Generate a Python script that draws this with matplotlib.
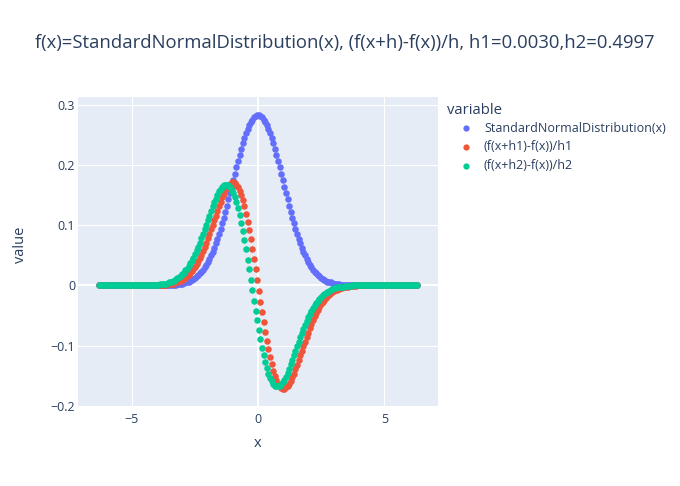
import matplotlib
matplotlib.use('Agg')
import matplotlib.pyplot as plt

plt.rcParams['font.family'] = ['Open Sans', 'DejaVu Sans']

TEXT = '#2a3f5f'
BG = '#E5ECF6'
COLORS = ['#636EFA', '#EF553B', '#00CC96']

title = 'f(x)=StandardNormalDistribution(x), (f(x+h)-f(x))/h, h1=0.0030,h2=0.4997'
names = ['StandardNormalDistribution(x)', '(f(x+h1)-f(x))/h1', '(f(x+h2)-f(x))/h2']

x = [
    -6.283, -6.220, -6.157, -6.094, -6.031, -5.967, -5.904, -5.841, -5.778, -5.715,
    -5.652, -5.589, -5.525, -5.462, -5.399, -5.336, -5.273, -5.210, -5.147, -5.083,
    -5.020, -4.957, -4.894, -4.831, -4.768, -4.705, -4.641, -4.578, -4.515, -4.452,
    -4.389, -4.326, -4.262, -4.199, -4.136, -4.073, -4.010, -3.947, -3.884, -3.820,
    -3.757, -3.694, -3.631, -3.568, -3.505, -3.442, -3.378, -3.315, -3.252, -3.189,
    -3.126, -3.063, -3.000, -2.936, -2.873, -2.810, -2.747, -2.684, -2.621, -2.557,
    -2.494, -2.431, -2.368, -2.305, -2.242, -2.179, -2.115, -2.052, -1.989, -1.926,
    -1.863, -1.800, -1.737, -1.673, -1.610, -1.547, -1.484, -1.421, -1.358, -1.295,
    -1.231, -1.168, -1.105, -1.042, -0.979, -0.916, -0.852, -0.789, -0.726, -0.663,
    -0.600, -0.537, -0.474, -0.410, -0.347, -0.284, -0.221, -0.158, -0.095, -0.032,
    0.032, 0.095, 0.158, 0.221, 0.284, 0.347, 0.410, 0.474, 0.537, 0.600,
    0.663, 0.726, 0.789, 0.852, 0.916, 0.979, 1.042, 1.105, 1.168, 1.231,
    1.295, 1.358, 1.421, 1.484, 1.547, 1.610, 1.673, 1.737, 1.800, 1.863,
    1.926, 1.989, 2.052, 2.115, 2.179, 2.242, 2.305, 2.368, 2.431, 2.494,
    2.557, 2.621, 2.684, 2.747, 2.810, 2.873, 2.936, 3.000, 3.063, 3.126,
    3.189, 3.252, 3.315, 3.378, 3.442, 3.505, 3.568, 3.631, 3.694, 3.757,
    3.820, 3.884, 3.947, 4.010, 4.073, 4.136, 4.199, 4.262, 4.326, 4.389,
    4.452, 4.515, 4.578, 4.641, 4.705, 4.768, 4.831, 4.894, 4.957, 5.020,
    5.083, 5.147, 5.210, 5.273, 5.336, 5.399, 5.462, 5.525, 5.589, 5.652,
    5.715, 5.778, 5.841, 5.904, 5.967, 6.031, 6.094, 6.157, 6.220, 6.283,
]

normal = [
    0, 0, 0, 0, 0, 0, 0, 0, 0, 0,
    0, 0, 0, 0, 0, 0, 0, 0, 0, 0,
    0, 0, 0, 0, 0, 0, 0, 0, 0, 0,
    0, 0, 0, 0, 0, 0, 0, 0, 0, 0,
    0, 0, 0, 0, 0.001, 0.001, 0.001, 0.001, 0.001, 0.002,
    0.002, 0.003, 0.003, 0.004, 0.005, 0.005, 0.006, 0.008, 0.009, 0.011,
    0.013, 0.015, 0.017, 0.020, 0.023, 0.026, 0.030, 0.034, 0.039, 0.044,
    0.050, 0.056, 0.062, 0.070, 0.077, 0.085, 0.094, 0.103, 0.112, 0.122,
    0.132, 0.143, 0.153, 0.164, 0.175, 0.185, 0.196, 0.207, 0.217, 0.226,
    0.236, 0.244, 0.252, 0.259, 0.266, 0.271, 0.275, 0.279, 0.281, 0.282,
    0.282, 0.281, 0.279, 0.275, 0.271, 0.266, 0.259, 0.252, 0.244, 0.236,
    0.226, 0.217, 0.207, 0.196, 0.185, 0.175, 0.164, 0.153, 0.143, 0.132,
    0.122, 0.112, 0.103, 0.094, 0.085, 0.077, 0.070, 0.062, 0.056, 0.050,
    0.044, 0.039, 0.034, 0.030, 0.026, 0.023, 0.020, 0.017, 0.015, 0.013,
    0.011, 0.009, 0.008, 0.006, 0.005, 0.005, 0.004, 0.003, 0.003, 0.002,
    0.002, 0.001, 0.001, 0.001, 0.001, 0.001, 0, 0, 0, 0,
    0, 0, 0, 0, 0, 0, 0, 0, 0, 0,
    0, 0, 0, 0, 0, 0, 0, 0, 0, 0,
    0, 0, 0, 0, 0, 0, 0, 0, 0, 0,
    0, 0, 0, 0, 0, 0, 0, 0, 0, 0,
]

diff_h1 = [
    0, 0, 0, 0, 0, 0, 0, 0, 0, 0,
    0, 0, 0, 0, 0, 0, 0, 0, 0, 0,
    0, 0, 0, 0, 0, 0, 0, 0, 0, 0,
    0, 0, 0, 0, 0, 0, 0, 0, 0.001, 0.001,
    0.001, 0.001, 0.001, 0.002, 0.002, 0.003, 0.003, 0.004, 0.005, 0.006,
    0.007, 0.008, 0.009, 0.011, 0.013, 0.015, 0.018, 0.021, 0.024, 0.027,
    0.031, 0.036, 0.040, 0.046, 0.051, 0.057, 0.064, 0.070, 0.078, 0.085,
    0.093, 0.101, 0.108, 0.116, 0.124, 0.132, 0.139, 0.146, 0.152, 0.158,
    0.163, 0.167, 0.169, 0.171, 0.171, 0.170, 0.167, 0.163, 0.157, 0.150,
    0.141, 0.131, 0.119, 0.106, 0.092, 0.077, 0.061, 0.044, 0.027, 0.009,
    -0.009, -0.027, -0.044, -0.061, -0.077, -0.092, -0.106, -0.119, -0.131, -0.141,
    -0.150, -0.157, -0.163, -0.167, -0.170, -0.171, -0.171, -0.169, -0.167, -0.163,
    -0.158, -0.152, -0.146, -0.139, -0.132, -0.124, -0.116, -0.108, -0.101, -0.093,
    -0.085, -0.078, -0.070, -0.064, -0.057, -0.051, -0.046, -0.040, -0.036, -0.031,
    -0.027, -0.024, -0.021, -0.018, -0.015, -0.013, -0.011, -0.009, -0.008, -0.007,
    -0.006, -0.005, -0.004, -0.003, -0.003, -0.002, -0.002, -0.001, -0.001, -0.001,
    -0.001, -0.001, 0, 0, 0, 0, 0, 0, 0, 0,
    0, 0, 0, 0, 0, 0, 0, 0, 0, 0,
    0, 0, 0, 0, 0, 0, 0, 0, 0, 0,
    0, 0, 0, 0, 0, 0, 0, 0, 0, 0,
]

diff_h2 = [
    0, 0, 0, 0, 0, 0, 0, 0, 0, 0,
    0, 0, 0, 0, 0, 0, 0, 0, 0, 0,
    0, 0, 0, 0, 0, 0, 0, 0, 0, 0,
    0, 0, 0, 0.001, 0.001, 0.001, 0.001, 0.001, 0.002, 0.002,
    0.002, 0.003, 0.003, 0.004, 0.005, 0.006, 0.007, 0.008, 0.010, 0.012,
    0.014, 0.016, 0.019, 0.021, 0.025, 0.028, 0.032, 0.037, 0.041, 0.046,
    0.052, 0.058, 0.064, 0.071, 0.078, 0.085, 0.093, 0.100, 0.108, 0.116,
    0.123, 0.131, 0.138, 0.144, 0.150, 0.156, 0.160, 0.164, 0.166, 0.167,
    0.167, 0.166, 0.163, 0.159, 0.154, 0.147, 0.138, 0.128, 0.117, 0.104,
    0.090, 0.075, 0.060, 0.043, 0.027, 0.009, -0.008, -0.025, -0.042, -0.058,
    -0.074, -0.089, -0.103, -0.116, -0.127, -0.137, -0.146, -0.153, -0.159, -0.163,
    -0.166, -0.167, -0.167, -0.166, -0.164, -0.160, -0.156, -0.151, -0.145, -0.138,
    -0.131, -0.124, -0.116, -0.109, -0.101, -0.093, -0.086, -0.079, -0.072, -0.065,
    -0.059, -0.053, -0.047, -0.042, -0.037, -0.033, -0.029, -0.025, -0.022, -0.019,
    -0.016, -0.014, -0.012, -0.010, -0.009, -0.007, -0.006, -0.005, -0.004, -0.003,
    -0.003, -0.002, -0.002, -0.002, -0.001, -0.001, -0.001, -0.001, -0.001, 0,
    0, 0, 0, 0, 0, 0, 0, 0, 0, 0,
    0, 0, 0, 0, 0, 0, 0, 0, 0, 0,
    0, 0, 0, 0, 0, 0, 0, 0, 0, 0,
    0, 0, 0, 0, 0, 0, 0, 0, 0, 0,
]

x_ticks = [-5, 0, 5]
y_ticks = [-0.2, -0.1, 0, 0.1, 0.2, 0.3]

W, H = 680, 486


def fx(px):
    return px / W


def fy(py):
    return 1 - py / H


def fmt(v):
    s = ('%g' % v)
    return s.replace('-', '\u2212')


fig = plt.figure(figsize=(W / 100, H / 100), dpi=100)
fig.patch.set_facecolor('white')
ax = fig.add_axes([fx(78), fy(407), fx(438) - fx(78), fy(97) - fy(407)])
ax.set_facecolor(BG)
for side in ax.spines.values():
    side.set_visible(False)

ax.set_xlim(-7.126, 7.126)
ax.set_ylim(-0.2015, 0.3125)
ax.set_xticks(x_ticks)
ax.set_yticks(y_ticks)
ax.set_xticklabels([fmt(v) for v in x_ticks])
ax.set_yticklabels([fmt(v) for v in y_ticks])
ax.tick_params(length=0, labelsize=9.0, labelcolor=TEXT)
ax.tick_params(axis='y', pad=2)
ax.tick_params(axis='x', pad=4)
ax.grid(True, color='white', linewidth=0.75)
ax.set_axisbelow(True)
ax.axhline(0, color='white', linewidth=1.5, zorder=1)
ax.axvline(0, color='white', linewidth=1.5, zorder=1)

for series, color in zip([normal, diff_h1, diff_h2], COLORS):
    ax.scatter(x, series, s=22, color=color, linewidths=0, zorder=3)

fig.text(fx(345), fy(43), title, ha='center', va='center', fontsize=13.3, color=TEXT)
fig.text(fx(258), fy(443), 'x', ha='center', va='center', fontsize=10.5, color=TEXT)
fig.text(fx(20), fy(245), 'value', ha='center', va='center', rotation=90, fontsize=10.5, color=TEXT)

# legend drawn by hand, plotly style
fig.text(fx(447), fy(110), 'variable', ha='left', va='center', fontsize=10.7, color=TEXT)
for i, (name, color) in enumerate(zip(names, COLORS)):
    yy = 128.5 + i * 18.5
    fig.add_artist(plt.Line2D([fx(466)], [fy(yy)], marker='o', markersize=4.5,
                              markeredgewidth=0, color=color, linestyle='none'))
    fig.text(fx(484), fy(yy), name, ha='left', va='center', fontsize=9.0, color=TEXT)

fig.savefig('out.png', dpi=100)
